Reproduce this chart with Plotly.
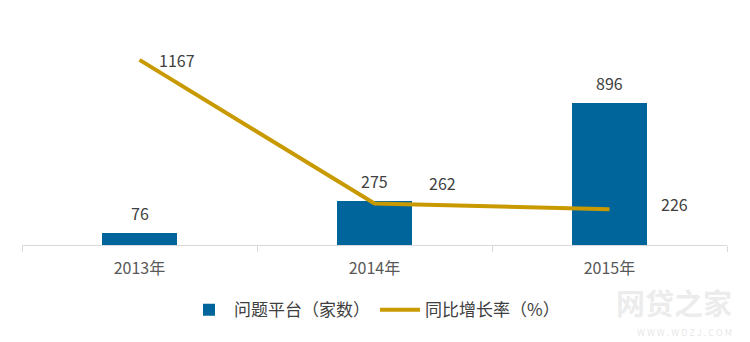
import plotly.graph_objects as go

years = ["2013年", "2014年", "2015年"]
problem_platforms = [76, 275, 896]
yoy_growth = [1167, 262, 226]

bar_color = "#00659a"
line_color = "#c99a00"
text_color = "#404040"
font_family = "Noto Sans CJK SC, Noto Sans, sans-serif"

fig = go.Figure()
fig.add_trace(go.Bar(
    x=years, y=problem_platforms, name="问题平台（家数）",
    marker=dict(color=bar_color, line=dict(width=0)), width=0.315,
))
fig.add_trace(go.Scatter(
    x=years, y=yoy_growth, name="同比增长率（%）", mode="lines",
    line=dict(color=line_color, width=4),
))

# data labels
for x, v in zip(years, problem_platforms):
    fig.add_annotation(x=x, y=v, text=str(v), showarrow=False, yshift=20,
                       font=dict(size=16, color=text_color, family=font_family))
line_shifts = [(37, 0), (68, 20), (65, 5)]
for (x, v), (dx, dy) in zip(zip(years, yoy_growth), line_shifts):
    fig.add_annotation(x=x, y=v, text=str(v), showarrow=False, xshift=dx, yshift=dy,
                       font=dict(size=16, color=text_color, family=font_family))

# faint watermark
fig.add_annotation(xref="paper", yref="paper", x=1.01, y=-0.255, text="<b>网贷之家</b>",
                   showarrow=False, xanchor="right", yanchor="middle",
                   font=dict(size=29, color="rgba(200,200,200,0.35)", family=font_family))
fig.add_annotation(xref="paper", yref="paper", x=1.01, y=-0.39, text="W W W . W D Z J . C O M",
                   showarrow=False, xanchor="right", yanchor="middle",
                   font=dict(size=9, color="rgba(200,200,200,0.45)", family=font_family))

fig.update_layout(
    width=750, height=342,
    margin=dict(l=22, r=23, t=20, b=97.3, pad=0),
    paper_bgcolor="white", plot_bgcolor="white",
    font=dict(family=font_family, color=text_color),
    showlegend=True,
    legend=dict(orientation="h", x=0.5, xanchor="center", y=-0.29, yanchor="middle",
                font=dict(size=17, color=text_color), itemwidth=40, traceorder="normal"),
    xaxis=dict(
        type="category", showline=True, linecolor="#d9d9d9", linewidth=1,
        ticks="outside", tickson="boundaries", ticklen=6, tickcolor="#d9d9d9",
        tickfont=dict(size=16, color="#595959"), showgrid=False,
        ticklabelstandoff=9,
        range=[-0.5, 2.5],
    ),
    yaxis=dict(range=[0, 1418.6], visible=False, showgrid=False, zeroline=False),
    bargap=0,
)

fig.write_html("out.html")
